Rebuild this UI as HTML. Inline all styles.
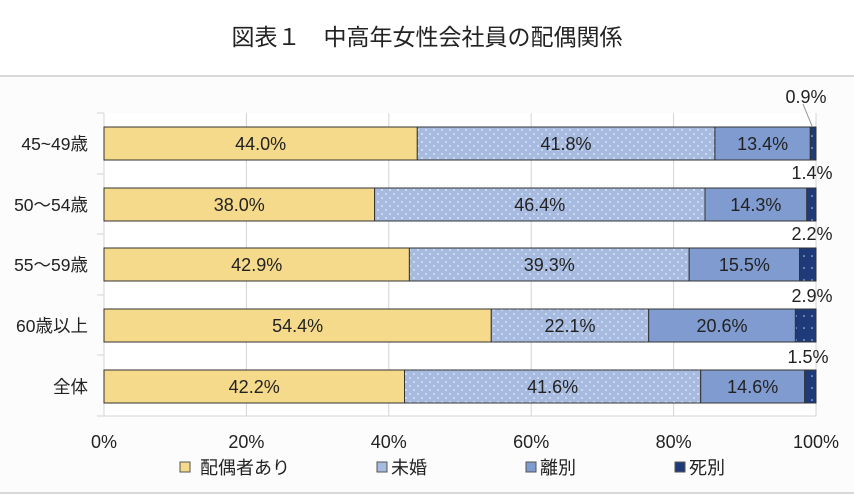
<!DOCTYPE html>
<html><head><meta charset="utf-8"><style>
body{margin:0;background:#fff;}
text{font-family:"Liberation Sans","Noto Sans CJK JP",sans-serif;fill:#222;}
</style></head><body>
<svg width="854" height="495" xmlns="http://www.w3.org/2000/svg">
<defs>
<pattern id="dot" width="8" height="8" patternUnits="userSpaceOnUse">
<rect width="8" height="8" fill="#a7bbe0"/><circle cx="2" cy="2" r="0.9" fill="#e8eef9"/><circle cx="6" cy="6" r="0.9" fill="#e8eef9"/>
</pattern>
<pattern id="nav" width="8" height="12" patternUnits="userSpaceOnUse">
<rect width="8" height="12" fill="#1f3a78"/><circle cx="4" cy="4" r="0.8" fill="#c8d4ee"/>
</pattern>
</defs>
<text x="427" y="45" text-anchor="middle" font-size="23">図表１　中高年女性会社員の配偶関係</text>
<rect x="0" y="76" width="854" height="417" fill="#fcfcfc"/>
<line x1="0" y1="76" x2="854" y2="76" stroke="#d8d8d8" stroke-width="2"/>
<line x1="0" y1="493" x2="854" y2="493" stroke="#d8d8d8" stroke-width="2"/>
<rect x="104" y="113" width="712" height="303" fill="#fff"/>
<g stroke="#d4d4d4" stroke-width="1">
<line x1="246.4" y1="113" x2="246.4" y2="416"/><line x1="388.8" y1="113" x2="388.8" y2="416"/>
<line x1="531.2" y1="113" x2="531.2" y2="416"/><line x1="673.6" y1="113" x2="673.6" y2="416"/>
<line x1="816" y1="113" x2="816" y2="416"/><line x1="104" y1="113" x2="104" y2="416"/>
<line x1="104" y1="416" x2="816" y2="416"/><line x1="97" y1="113" x2="104" y2="113"/>
<line x1="97" y1="174" x2="104" y2="174"/><line x1="97" y1="234" x2="104" y2="234"/>
<line x1="97" y1="295" x2="104" y2="295"/><line x1="97" y1="355" x2="104" y2="355"/><line x1="97" y1="416" x2="104" y2="416"/>
</g>
<g stroke="#333" stroke-width="1">
<rect x="104" y="127" width="313.3" height="33" fill="#f5da8b"/><rect x="417.3" y="127" width="297.6" height="33" fill="url(#dot)"/><rect x="714.9" y="127" width="95.4" height="33" fill="#7f9bd0"/><rect x="810.3" y="127" width="5.7" height="33" fill="url(#nav)"/>
<rect x="104" y="188" width="270.6" height="33" fill="#f5da8b"/><rect x="374.6" y="188" width="330.4" height="33" fill="url(#dot)"/><rect x="705" y="188" width="101.8" height="33" fill="#7f9bd0"/><rect x="806.8" y="188" width="9.2" height="33" fill="url(#nav)"/>
<rect x="104" y="248" width="305.4" height="33" fill="#f5da8b"/><rect x="409.4" y="248" width="279.8" height="33" fill="url(#dot)"/><rect x="689.2" y="248" width="110.4" height="33" fill="#7f9bd0"/><rect x="799.6" y="248" width="16.4" height="33" fill="url(#nav)"/>
<rect x="104" y="309" width="387.3" height="33" fill="#f5da8b"/><rect x="491.3" y="309" width="157.4" height="33" fill="url(#dot)"/><rect x="648.7" y="309" width="146.7" height="33" fill="#7f9bd0"/><rect x="795.4" y="309" width="20.6" height="33" fill="url(#nav)"/>
<rect x="104" y="370" width="300.5" height="33" fill="#f5da8b"/><rect x="404.5" y="370" width="296.2" height="33" fill="url(#dot)"/><rect x="700.7" y="370" width="104" height="33" fill="#7f9bd0"/><rect x="804.7" y="370" width="11.3" height="33" fill="url(#nav)"/>
</g>
<line x1="803" y1="104" x2="812" y2="126" stroke="#999" stroke-width="1"/>
<g font-size="18" text-anchor="middle">
<text x="260.6" y="150">44.0%</text><text x="566" y="150">41.8%</text><text x="762.6" y="150">13.4%</text>
<text x="239.3" y="211">38.0%</text><text x="539.8" y="211">46.4%</text><text x="755.9" y="211">14.3%</text>
<text x="256.7" y="271">42.9%</text><text x="549.3" y="271">39.3%</text><text x="744.4" y="271">15.5%</text>
<text x="297.6" y="332">54.4%</text><text x="570" y="332">22.1%</text><text x="722" y="332">20.6%</text>
<text x="254.2" y="393">42.2%</text><text x="552.6" y="393">41.6%</text><text x="752.7" y="393">14.6%</text>
<text x="806" y="103">0.9%</text><text x="812" y="179">1.4%</text><text x="812" y="240">2.2%</text><text x="812" y="302">2.9%</text><text x="808" y="363">1.5%</text>
</g>
<g font-size="17.5" text-anchor="end">
<text x="88" y="150">45~49歳</text><text x="88" y="211">50～54歳</text><text x="88" y="271">55～59歳</text><text x="88" y="332">60歳以上</text><text x="88" y="393">全体</text>
</g>
<g font-size="18" text-anchor="middle">
<text x="104" y="448">0%</text><text x="246.4" y="448">20%</text><text x="388.8" y="448">40%</text><text x="531.2" y="448">60%</text><text x="673.6" y="448">80%</text><text x="816" y="448">100%</text>
</g>
<g font-size="18">
<rect x="180" y="462" width="10" height="10" fill="#f5da8b" stroke="#555"/><text x="200" y="474">配偶者あり</text>
<rect x="377" y="462" width="10" height="10" fill="#a7bbe0" stroke="#555"/><text x="391" y="474">未婚</text>
<rect x="526" y="462" width="10" height="10" fill="#7f9bd0" stroke="#555"/><text x="540" y="474">離別</text>
<rect x="675" y="462" width="10" height="10" fill="#1f3a78" stroke="#555"/><text x="689" y="474">死別</text>
</g>
</svg>
</body></html>
